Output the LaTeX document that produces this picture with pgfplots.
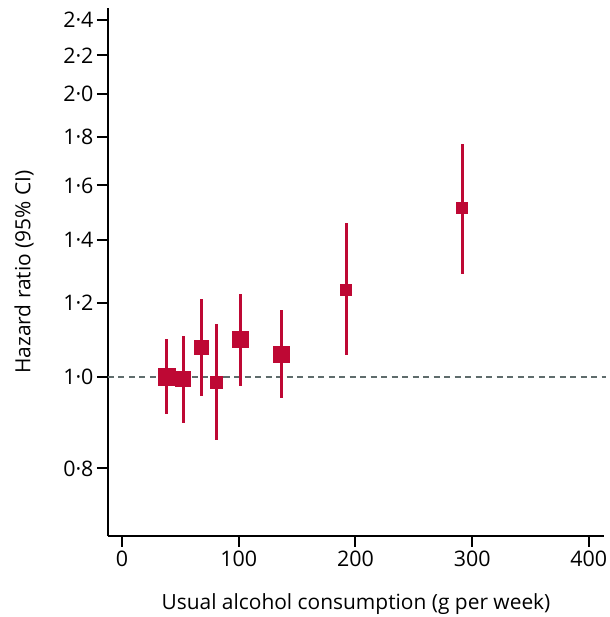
\documentclass[border=0pt]{standalone}
\usepackage{pgfplots}
\pgfplotsset{compat=1.18}
\usepackage{pgfplotstable}
\usepackage{fontspec}
\setmainfont{Open Sans}
\definecolor{hrred}{RGB}{190,8,52}
\definecolor{refgray}{RGB}{95,108,108}
\pgfplotstableread{
x y lo hi s
38.5 1.000 0.913 1.097 8.5
52.3 0.997 0.894 1.106 7.5
68.3 1.075 0.955 1.210 7.0
80.9 0.988 0.857 1.140 6.0
101.4 1.097 0.979 1.225 8.0
137.0 1.057 0.951 1.178 8.0
192.0 1.239 1.055 1.459 5.5
291.4 1.512 1.289 1.771 5.5
}\hrdata
\begin{document}
\begin{tikzpicture}
\begin{axis}[
  scale only axis,
  width=496bp, height=528bp,
  ymode=log,
  xmin=-12, xmax=413,
  ymin=0.678, ymax=2.47,
  axis x line*=bottom, axis y line*=left,
  axis line style={line width=2bp, black},
  xtick={0,100,200,300,400},
  ytick={0.8,1.0,1.2,1.4,1.6,1.8,2.0,2.2,2.4},
  yticklabels={0·8,1·0,1·2,1·4,1·6,1·8,2·0,2·2,2·4},
  /pgf/number format/assume math mode=true,
  tick align=outside,
  major tick length=11bp,
  tick style={line width=2bp, black},
  minor tick num=0,
  log ticks with fixed point,
  tick label style={font=\fontsize{21.5}{25}\selectfont},
  xticklabel style={yshift=-1bp},
  yticklabel style={xshift=0bp},
  label style={font=\fontsize{21}{25}\selectfont},
  xlabel={Usual alcohol consumption (g per week)},
  ylabel={Hazard ratio (95\% CI)},
  xlabel style={at={(axis description cs:0.5,-0.129)}, anchor=center},
  ylabel style={at={(axis description cs:-0.169,0.5)}, anchor=center, rotate=0},
  clip=false,
]
\addplot[refgray, line width=2bp, dash pattern=on 6bp off 4.5bp] coordinates {(-12,1) (415,1)};
\addplot[draw=none, mark=none,
  error bars/.cd, y dir=both, y explicit,
  error mark=none,
  error bar style={line width=3bp, hrred}]
  table[x=x, y=y, y error plus expr=\thisrow{hi}-\thisrow{y}, y error minus expr=\thisrow{y}-\thisrow{lo}] {\hrdata};
\addplot[only marks, scatter, mark=square*, hrred,
  scatter/use mapped color={draw=hrred, fill=hrred},
  visualization depends on={\thisrow{s} \as \msize},
  scatter/@pre marker code/.append style={/tikz/mark size=\msize bp},
  mark options={line width=0pt}]
  table[x=x, y=y] {\hrdata};
\end{axis}
\pgfresetboundingbox
\path (current axis.south west) ++(-108bp,-81bp) rectangle ++(610bp,617bp);
\end{tikzpicture}
\end{document}
